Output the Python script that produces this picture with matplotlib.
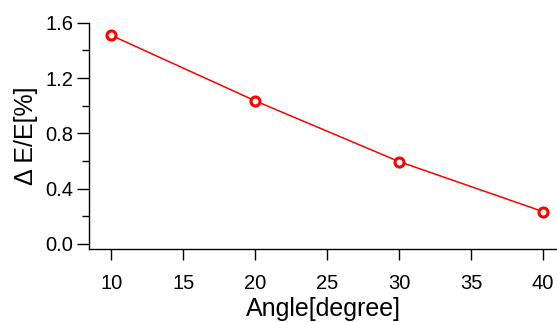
import matplotlib
matplotlib.use("Agg")
import matplotlib.pyplot as plt
from matplotlib.ticker import MultipleLocator

plt.rcParams['font.family'] = ['Liberation Sans', 'DejaVu Sans']

# data
angle = [10, 20, 30, 40]
de_e = [1.51, 1.036, 0.596, 0.234]

fig = plt.figure(figsize=(5.57, 3.22), dpi=100)
ax = fig.add_axes([0.160, 0.227, 0.840, 0.702])

ax.plot(angle, de_e, color='red', lw=1.1, marker='o', markersize=6.5,
        markerfacecolor='white', markeredgecolor='red', markeredgewidth=2.2)

ax.set_xlim(8.47, 40.97)
ax.set_ylim(-0.036, 1.6)
ax.xaxis.set_major_locator(MultipleLocator(5))
ax.yaxis.set_major_locator(MultipleLocator(0.4))
ax.yaxis.set_minor_locator(MultipleLocator(0.2))
ax.yaxis.set_major_formatter(plt.FormatStrFormatter('%.1f'))

for s in ['top', 'right']:
    ax.spines[s].set_visible(False)
ax.spines['left'].set_linewidth(1.0)
ax.spines['bottom'].set_linewidth(1.0)

ax.tick_params(axis='y', which='major', length=8.5, width=1, labelsize=14.5, pad=3)
ax.tick_params(axis='y', which='minor', length=5, width=1)
ax.tick_params(axis='x', which='major', length=8, width=1, labelsize=14.5, pad=10)

ax.set_xlabel('Angle[degree]', fontsize=18, labelpad=3)
ax.set_ylabel('Δ E/E[%]', fontsize=18, labelpad=5)

fig.savefig('out.png', dpi=100)
